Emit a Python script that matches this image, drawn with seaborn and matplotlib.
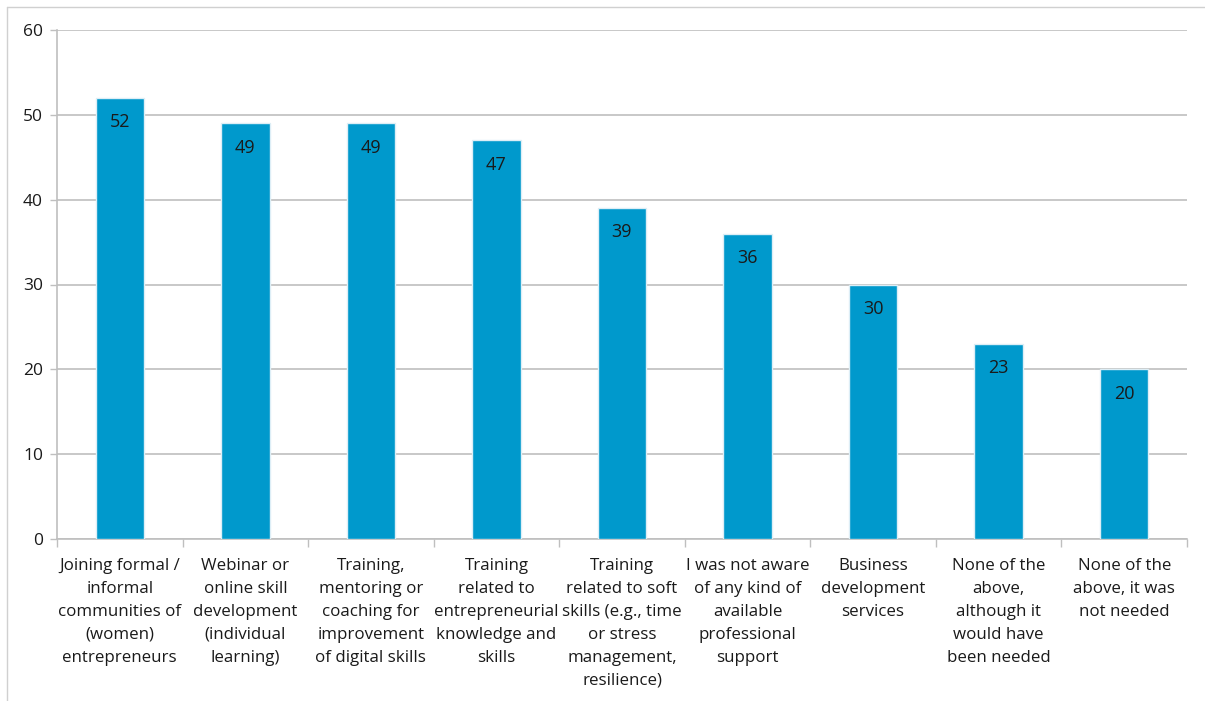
import matplotlib
matplotlib.use("Agg")
import matplotlib.pyplot as plt
from matplotlib.lines import Line2D
import seaborn as sns
import pandas as pd

categories = [
    "Joining formal /\ninformal\ncommunities of\n(women)\nentrepreneurs",
    "Webinar or\nonline skill\ndevelopment\n(individual\nlearning)",
    "Training,\nmentoring or\ncoaching for\nimprovement\nof digital skills",
    "Training\nrelated to\nentrepreneurial\nknowledge and\nskills",
    "Training\nrelated to soft\nskills (e.g., time\nor stress\nmanagement,\nresilience)",
    "I was not aware\nof any kind of\navailable\nprofessional\nsupport",
    "Business\ndevelopment\nservices",
    "None of the\nabove,\nalthough it\nwould have\nbeen needed",
    "None of the\nabove, it was\nnot needed",
]
values = [52, 49, 49, 47, 39, 36, 30, 23, 20]
y_ticks = [0, 10, 20, 30, 40, 50, 60]

sns.set_theme(style="white")
plt.rcParams["font.family"] = ["Open Sans", "DejaVu Sans"]

df = pd.DataFrame({"category": categories, "value": values})

fig = plt.figure(figsize=(12.05, 7.01), dpi=100)
ax = fig.add_axes([57 / 1205, 1 - 539 / 701, 1130 / 1205, 509 / 701])

sns.barplot(data=df, x="category", y="value", color="#0099CC", saturation=1,
            width=0.385, edgecolor="#DDEEF6", linewidth=1.0, ax=ax, zorder=3)

grid_c = "#BFBFBF"
ax.set_ylim(0, 60)
ax.set_xlim(-0.5, len(categories) - 0.5)
ax.set_yticks(y_ticks)
ax.yaxis.grid(True, color=grid_c, linewidth=1.2, zorder=0)
ax.set_axisbelow(True)
ax.tick_params(axis="y", which="major", length=5, width=1, color=grid_c,
               labelsize=12.5, labelcolor="#1a1a1a", pad=5, left=True)

# category labels centred under bars; tick marks at category boundaries
ax.set_xticks([i - 0.5 for i in range(len(categories) + 1)])
ax.set_xticklabels([])
ax.tick_params(axis="x", which="major", length=6, width=1, color=grid_c, bottom=True)
ax.set_xticks(range(len(categories)), minor=True)
ax.set_xticklabels(categories, minor=True, fontsize=12.2, color="#1a1a1a",
                   linespacing=1.58)
ax.tick_params(axis="x", which="minor", length=0, pad=13.5)

ax.set_xlabel("")
ax.set_ylabel("")
for side in ["top", "right"]:
    ax.spines[side].set_visible(False)
for side in ["left", "bottom"]:
    ax.spines[side].set_color(grid_c)
    ax.spines[side].set_linewidth(1.2)

# value labels just inside the top of each bar
for i, v in enumerate(values):
    ax.annotate(f"{v}", xy=(i, v), xytext=(0, -17.5), textcoords="offset points",
                ha="center", va="center", fontsize=13, color="#1a1a1a")

# outer chart frame
frame_c = "#D0D0D0"
fig.add_artist(Line2D([7 / 1205, 1], [1 - 7 / 701, 1 - 7 / 701],
                      transform=fig.transFigure, color=frame_c, linewidth=1))
fig.add_artist(Line2D([7 / 1205, 7 / 1205], [0, 1 - 7 / 701],
                      transform=fig.transFigure, color=frame_c, linewidth=1))

fig.savefig("out.png", dpi=100)
